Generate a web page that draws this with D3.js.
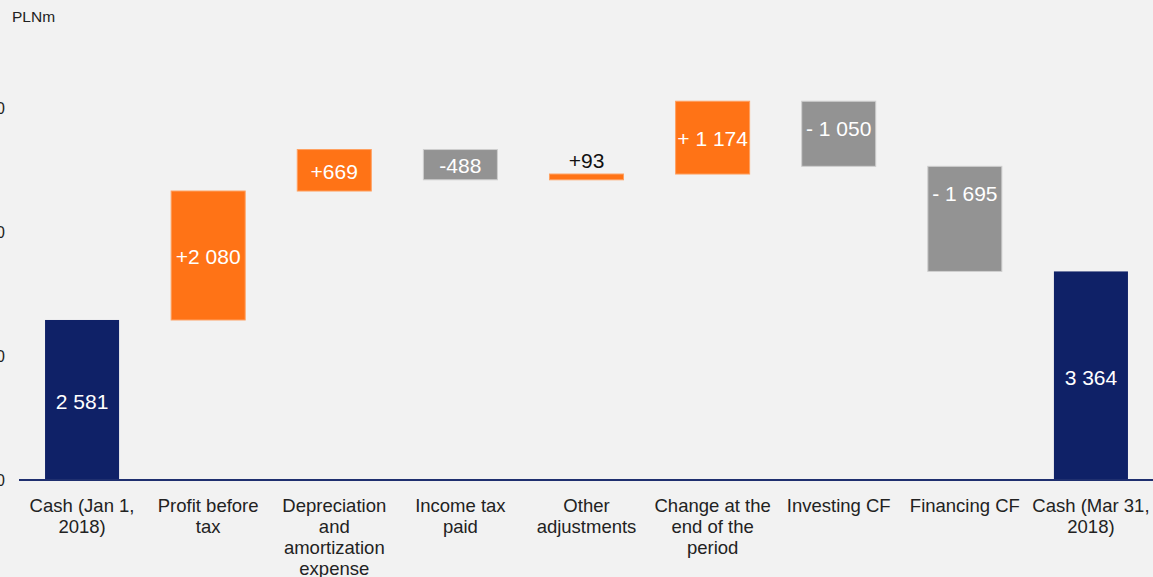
<!DOCTYPE html>
<html><head><meta charset="utf-8">
<script src="https://cdn.jsdelivr.net/npm/d3@7/dist/d3.min.js"></script>
<style>
html,body{margin:0;padding:0;background:#f2f2f2;}
svg{display:block;font-family:Arial,"Liberation Sans",sans-serif;}
</style></head>
<body>
<svg id="c" width="1153" height="577"></svg>
<script>
const categories = [
  ["Cash (Jan 1,", "2018)"],
  ["Profit before", "tax"],
  ["Depreciation", "and", "amortization", "expense"],
  ["Income tax", "paid"],
  ["Other", "adjustments"],
  ["Change at the", "end of the", "period"],
  ["Investing CF"],
  ["Financing CF"],
  ["Cash (Mar 31,", "2018)"]
];
const kinds = ["total","up","up","down","up","up","down","down","total"];
const values = [2581, 2080, 669, -488, 93, 1174, -1050, -1695, 3364];
const valueLabels = ["2 581","+2 080","+669","-488","+93","+ 1 174","- 1 050","- 1 695","3 364"];
const yTicks = [0, 2000, 4000, 6000];
const yTickLabels = ["0","2 000","4 000","6 000"];
const unitLabel = "PLNm";

const colors = {total:"#0f2167", up:"#ff7316", down:"#939393"};

const svg = d3.select("#c");
const x = d3.scaleBand().domain(d3.range(categories.length)).range([19, 1154]).paddingInner(0.413).paddingOuter(0.2065);
const y = d3.scaleLinear().domain([0, 6000]).range([480, 108]);

// compute waterfall
let run = 0;
const bars = values.map((v,i)=>{
  let lo, hi;
  if (kinds[i]==="total"){ lo=0; hi=v; run=v; }
  else { const s=run; run=s+v; lo=Math.min(s,run); hi=Math.max(s,run); }
  return {i, v, lo, hi, kind:kinds[i], label:valueLabels[i]};
});

// y axis labels (clipped at left edge, as in the reference)
const yAxis = d3.axisLeft(y).tickValues(yTicks).tickFormat((d,i)=>yTickLabels[i]).tickSize(0).tickPadding(0);
const ya = svg.append("g").attr("transform","translate(5,0)").call(yAxis);
ya.select(".domain").remove();
ya.selectAll("text").attr("font-size",16).attr("fill","#222").attr("font-family","Arial,'Liberation Sans',sans-serif");

svg.append("text").attr("x",12).attr("y",22).attr("font-size",15.5).attr("fill","#222").text(unitLabel);

// bars
svg.append("g").selectAll("rect").data(bars).join("rect")
  .attr("x",d=>x(d.i)).attr("width",x.bandwidth())
  .attr("y",d=>y(d.hi)).attr("height",d=>Math.max(y(d.lo)-y(d.hi),1))
  .attr("fill",d=>colors[d.kind])
  .attr("stroke",d=>d.kind==="down"?"#cfcfcf":d.kind==="up"?"#ffa060":"none")
  .attr("stroke-width",1);

// baseline
svg.append("line").attr("x1",19).attr("x2",1153).attr("y1",y(0)).attr("y2",y(0))
  .attr("stroke","#1f2f6f").attr("stroke-width",2);

// value labels
svg.append("g").selectAll("text").data(bars).join("text")
  .attr("x",d=>x(d.i)+x.bandwidth()/2)
  .attr("y",d=>{
    const top=y(d.hi), bot=y(d.lo), h=bot-top;
    if (h<20) return top-13;
    const c=(top+bot)/2;
    if (d.kind==="down") return Math.min(c+1, top+27);
    return c+1.5;
  })
  .attr("dy","0.35em")
  .attr("text-anchor","middle").attr("font-size",21)
  .attr("fill",d=>(y(d.lo)-y(d.hi))<20?"#111":"#fff")
  .text(d=>d.label);

// category labels
const cg = svg.append("g").selectAll("text").data(categories).join("text")
  .attr("text-anchor","middle").attr("font-size",18.5).attr("fill","#222")
  .attr("transform",(d,i)=>`translate(${x(i)+x.bandwidth()/2},512)`);
cg.selectAll("tspan").data(d=>d).join("tspan")
  .attr("x",0).attr("y",(d,j)=>j*21).text(d=>d);
</script>
</body></html>
